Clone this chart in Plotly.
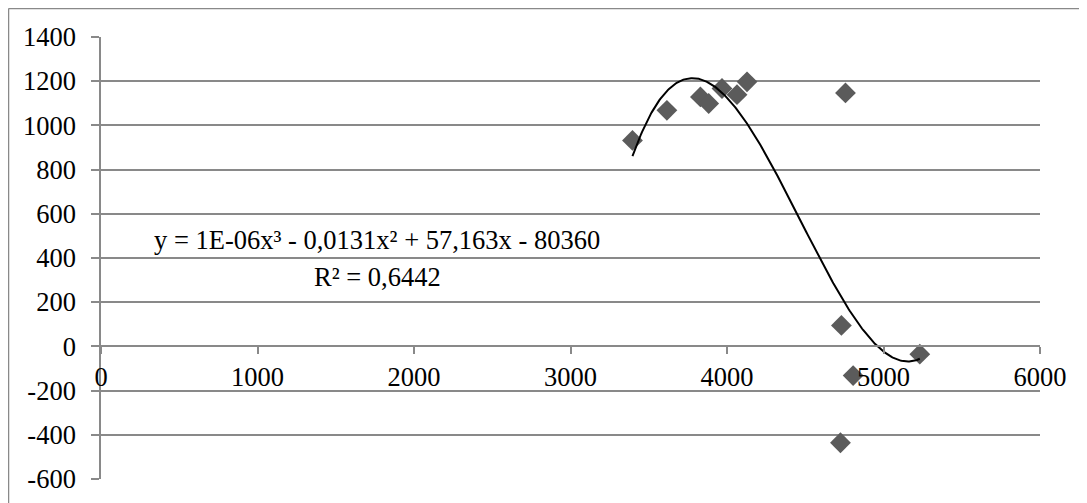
import numpy as np
import plotly.graph_objects as go

# Data
x_vals = [3396, 3616, 3830, 3883, 3968, 4064, 4128, 4757, 4731, 5232, 4806, 4725]
y_vals = [932, 1068, 1129, 1099, 1167, 1139, 1197, 1147, 95, -35, -132, -436]

x_ticks = [0, 1000, 2000, 3000, 4000, 5000, 6000]
y_ticks = [-600, -400, -200, 0, 200, 400, 600, 800, 1000, 1200, 1400]

eq_text = "y = 1E-06x³ - 0,0131x² + 57,163x - 80360"
r2_text = "R² = 0,6442"

# Polynomial (order 3) trendline fitted to the data
coef = np.polyfit(x_vals, y_vals, 3)
xs = np.linspace(min(x_vals), max(x_vals), 300)
ys = np.polyval(coef, xs)

FONT = "Liberation Serif, Times New Roman, serif"
FS = 26.5
GRID = "#898989"

fig = go.Figure()
fig.add_trace(go.Scatter(
    x=x_vals, y=y_vals, mode="markers",
    marker=dict(symbol="diamond", size=16, color="#5b5b5b", line=dict(width=0)),
    showlegend=False, hoverinfo="skip",
))
fig.add_trace(go.Scatter(
    x=xs, y=ys, mode="lines",
    line=dict(color="black", width=2),
    showlegend=False, hoverinfo="skip",
))

fig.update_layout(
    width=1087, height=503,
    margin=dict(l=93, r=55, t=29, b=32),
    paper_bgcolor="white", plot_bgcolor="white",
    font=dict(family=FONT, size=FS, color="black"),
    xaxis=dict(
        range=[0, 6000], tickvals=x_ticks, ticktext=[str(v) for v in x_ticks],
        showgrid=False, zeroline=False,
        showline=True, linecolor=GRID, linewidth=1.5,
        ticks="outside", ticklen=7, tickcolor=GRID, tickwidth=1.5,
        anchor="free", position=0.3,
        tickfont=dict(family=FONT, size=FS, color="black"),
    ),
    yaxis=dict(
        range=[-600, 1400], tickvals=y_ticks, ticktext=[str(v) for v in y_ticks],
        showgrid=True, gridcolor=GRID, gridwidth=1.5, zeroline=False,
        showline=True, linecolor=GRID, linewidth=1.5,
        ticks="outside", ticklen=8, tickcolor=GRID, tickwidth=1.5,
        ticklabelstandoff=10,
        tickfont=dict(family=FONT, size=FS, color="black"),
    ),
    annotations=[
        dict(x=1764, y=480, xref="x", yref="y", text=eq_text, showarrow=False,
             xanchor="center", yanchor="middle", font=dict(family=FONT, size=FS, color="black")),
        dict(x=1764, y=312, xref="x", yref="y", text=r2_text, showarrow=False,
             xanchor="center", yanchor="middle", font=dict(family=FONT, size=FS, color="black")),
    ],
    shapes=[
        dict(type="line", xref="paper", yref="paper", x0=-0.0985, x1=1.07, y0=1.0645, y1=1.0645,
             line=dict(color=GRID, width=1.5)),
        dict(type="line", xref="paper", yref="paper", x0=-0.0985, x1=-0.0985, y0=1.0645, y1=-0.1,
             line=dict(color=GRID, width=1.5)),
    ],
)

fig.write_html("out.html")
